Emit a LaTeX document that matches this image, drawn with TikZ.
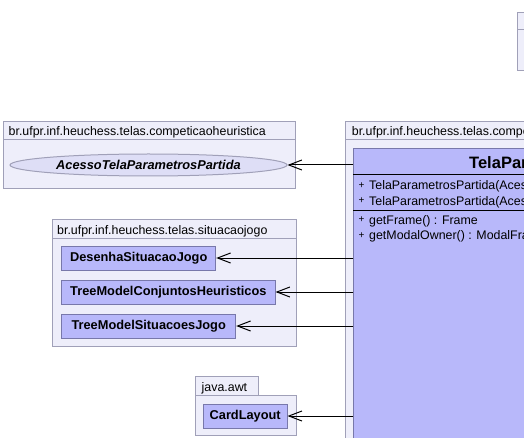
\documentclass[tikz,border=0pt]{standalone}
\usepackage{fontspec}
\setmainfont{Liberation Sans}
\usetikzlibrary{shapes.geometric,arrows.meta}
\definecolor{pkgfill}{RGB}{238,238,250}
\definecolor{pkgline}{RGB}{160,160,184}
\definecolor{clsfill}{RGB}{184,184,250}
\definecolor{clsline}{RGB}{120,120,170}
\definecolor{ellfill}{RGB}{222,222,246}
\begin{document}
\begin{tikzpicture}[x=1pt,y=-1pt,
  pkg/.style={draw=pkgline,fill=pkgfill,line width=1pt},
  cls/.style={draw=clsline,fill=clsfill,line width=1pt,inner sep=0pt,minimum height=24pt,font=\fontsize{12.8}{14}\selectfont\bfseries},
  lbl/.style={anchor=base west,inner sep=0pt,font=\fontsize{12.4}{14}\selectfont},
  sepline/.style={draw=black,line width=1pt},
  dep/.style={-{Straight Barb[length=13pt,width=10pt]},line width=1pt,draw=black}]
\useasboundingbox (0,0) rectangle (524,438);
\clip (0,0) rectangle (524,438);
\fill[white] (0,0) rectangle (524,438);
% top-right package (cut off)
\path[pkg] (517.3,12.3) rectangle (700,30);
\path[pkg] (517.3,30) rectangle (700,71);
% package competicaoheuristica
\path[pkg] (3,122) rectangle (295,139.3);
\path[pkg] (3,139.3) rectangle (295,188.5);
\node[lbl] (p1lbl) at (8.5,135.3) {br.ufpr.inf.heuchess.telas.competicaoheuristica};
\node[ellipse,draw=pkgline,fill=ellfill,line width=1pt,minimum width=277pt,minimum height=22pt,inner sep=0pt,font=\fontsize{12.8}{14}\selectfont\bfseries\itshape] (acesso) at (148.5,165) {AcessoTelaParametrosPartida};
% package competicao
\path[pkg] (345.7,122) rectangle (800,139.3);
\path[pkg] (345.7,139.3) rectangle (800,600);
\node[lbl] (p2lbl) at (351.7,135.3) {br.ufpr.inf.heuchess.telas.competicao};
\node[draw=clsline,fill=clsfill,line width=1pt,inner sep=0pt,minimum width=411pt,minimum height=400pt,anchor=north west] (tela) at (353.3,148.3) {};
\node[anchor=base west,inner sep=0pt,font=\fontsize{16.5}{18}\selectfont\bfseries] (title) at (469,168.7) {TelaParametrosPartida};
\path[sepline] (353.3,175) -- (764,175);
\path[sepline] (353.3,210.3) -- (764,210.3);
\node[lbl] (c1) at (358.3,190) {\makebox[10.7pt][l]{\raisebox{1.5pt}{\fontsize{10}{10}\selectfont+}}TelaParametrosPartida(AcessoTelaParametrosPartida)};
\node[lbl] (c2) at (358.3,205.3) {\makebox[10.7pt][l]{\raisebox{1.5pt}{\fontsize{10}{10}\selectfont+}}TelaParametrosPartida(AcessoTelaParametrosPartida, ModalFrame)};
\node[lbl] (m1) at (358.3,224.3) {\makebox[10.7pt][l]{\raisebox{1.5pt}{\fontsize{10}{10}\selectfont+}}getFrame() : Frame};
\node[lbl] (m2) at (358.3,240) {\makebox[10.7pt][l]{\raisebox{1.5pt}{\fontsize{10}{10}\selectfont+}}getModalOwner() : ModalFrame};
% package situacaojogo
\path[pkg] (52,220) rectangle (296,238.5);
\path[pkg] (52,238.5) rectangle (296,346);
\node[lbl] (p3lbl) at (57,234.5) {br.ufpr.inf.heuchess.telas.situacaojogo};
\node[cls,minimum width=154pt] (desenha) at (138.7,258) {DesenhaSituacaoJogo};
\node[cls,minimum width=213.3pt] (treeconj) at (168.35,292) {TreeModelConjuntosHeuristicos};
\node[cls,minimum width=174pt] (treesit) at (148.7,326) {TreeModelSituacoesJogo};
% package java.awt
\path[pkg] (195,376) rectangle (258.3,395);
\path[pkg] (195,395) rectangle (296,435);
\node[lbl] (p4lbl) at (201.5,391) {java.awt};
\node[cls,minimum width=83.7pt] (card) at (245.2,416) {CardLayout};
% dependencies
\draw[dep] (acesso -| tela.west) -- (acesso.east);
\draw[dep] (desenha -| tela.west) -- (desenha.east);
\draw[dep] (treeconj -| tela.west) -- (treeconj.east);
\draw[dep] (treesit -| tela.west) -- (treesit.east);
\draw[dep] (card -| tela.west) -- (card.east);
\end{tikzpicture}
\end{document}
